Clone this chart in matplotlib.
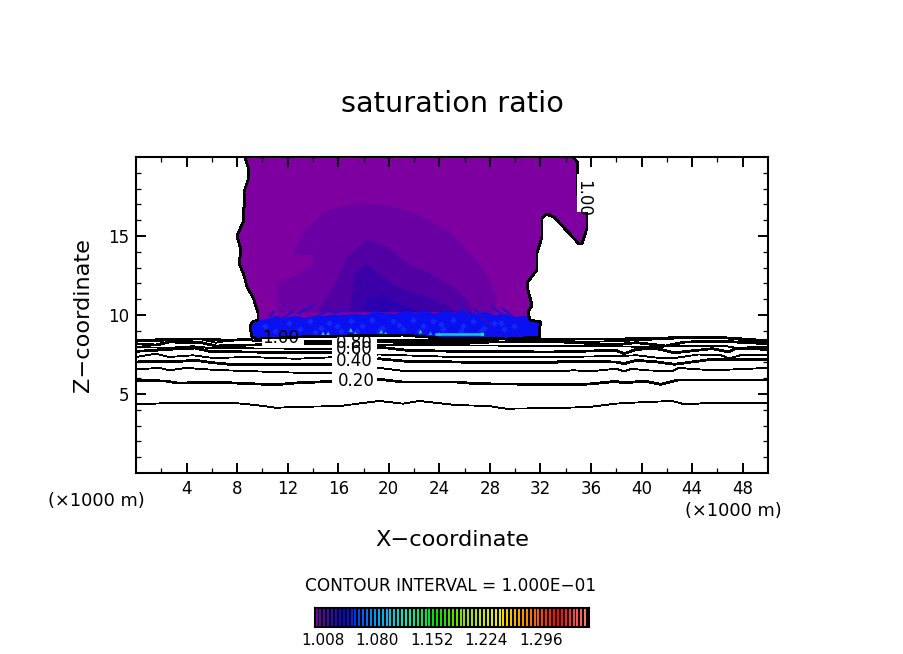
"""
Saturation ratio cross section, redrawn from values read off the picture.
"""
import numpy as np
import matplotlib
matplotlib.use('Agg')
import matplotlib.pyplot as plt
from matplotlib.colors import LinearSegmentedColormap

# Cloud outline (saturation ratio = 1), km.
cloud_x = [8.62, 8.94, 8.86, 8.54, 8.62, 8.47, 8.54, 7.99, 8.31, 8.15, 8.54, 8.78, 9.26, 9.65,
           9.65, 9.18, 9.02, 9.18, 9.57, 12.97, 16.14, 21.12, 24.05, 27.61, 29.35, 31.96,
           31.88, 32.04, 31.17, 31.01, 31.33, 31.01, 30.93, 31.72, 31.72, 32.12, 32.12, 32.52,
           33.15, 34.18, 35.05, 35.28, 35.68, 35.68, 35.28, 34.89, 34.89, 34.97, 34.57]
cloud_z = [20, 19.18, 18.54, 17.78, 17.09, 16.52, 16.01, 15.0, 14.11, 13.29, 12.53, 11.77, 11.14, 10.13,
           9.68, 9.56, 9.24, 8.61, 8.48, 8.61, 8.67, 8.73, 8.54, 8.54, 8.48, 8.61,
           9.05, 9.56, 9.68, 10.13, 10.63, 11.58, 12.03, 12.85, 13.92, 14.94, 16.14, 16.39,
           16.14, 15.25, 14.49, 14.49, 15.51, 16.46, 17.03, 17.72, 18.86, 19.62, 20]

# Filled levels inside the cloud.
lev2_x = [11.16, 11.16, 12.97, 14.0, 13.92, 12.42, 13.21, 15.11, 17.72, 19.86, 22.47, 24.84, 26.98, 28.0, 28.56, 28.4]
lev2_z = [10.13, 12.03, 12.66, 13.29, 13.8, 13.8, 15.19, 16.65, 17.09, 16.96, 16.33, 15.25, 13.48, 12.22, 11.14, 10.13]
lev3_x = [14.32, 15.9, 16.69, 18.28, 19.86, 21.44, 23.26, 25.08, 26.19, 26.58]
lev3_z = [10.19, 12.22, 13.67, 14.75, 14.3, 13.29, 12.66, 11.77, 10.95, 10.19]
lev4_x = [16.93, 17.33, 18.28, 19.07, 20.65, 23.02, 24.45, 25.4]
lev4_z = [10.19, 12.66, 13.29, 12.66, 11.77, 11.14, 10.63, 10.19]
lev5_x = [17.72, 18.28, 19.54, 20.65, 22.47]
lev5_z = [10.19, 10.95, 11.33, 10.76, 10.19]

# Blue band at cloud base.
band_x = [9.65, 10.44, 11.08, 11.79, 12.58, 13.37, 14.16, 14.95, 15.74, 16.53, 17.33, 18.12, 18.91, 19.70, 20.49,
          21.28, 22.07, 22.86, 23.65, 24.45, 25.24, 26.03, 26.82, 27.61, 28.40, 29.19, 29.98, 30.78, 31.25,
          32.04, 31.88, 31.96, 29.35, 27.61, 24.05, 21.12, 16.14, 12.97, 9.57, 9.18, 9.02, 9.18]
band_z = [9.68, 9.75, 9.94, 9.81, 9.94, 9.81, 9.94, 9.94, 10.0, 10.0, 10.06, 10.0, 10.19, 10.13, 10.06,
          10.25, 10.13, 10.25, 10.06, 10.25, 10.13, 10.32, 10.06, 10.19, 10.0, 10.06, 9.87, 9.94, 9.68,
          9.56, 9.05, 8.61, 8.48, 8.54, 8.54, 8.73, 8.67, 8.61, 8.48, 8.61, 9.24, 9.56]

# Dark streaks above the band: start x, start z, end x, end z.
streak_x0 = [10.6, 11.6, 12.9, 14.3, 15.6, 25.8, 26.8, 28.2, 29.0]
streak_z0 = [9.9, 9.8, 10.1, 9.9, 10.1, 10.5, 10.4, 10.5, 10.4]
streak_x1 = [10.9, 12.4, 14.0, 15.4, 16.7, 26.3, 28.1, 29.0, 29.8]
streak_z1 = [10.2, 10.2, 10.6, 10.4, 10.4, 10.0, 9.3, 10.0, 9.9]

# Lighter mottling inside the band.
mottle_x = [10.2, 11.0, 12.1, 13.0, 13.8, 14.6, 15.3, 16.2, 17.0, 17.9, 18.7, 19.5, 20.3, 21.1, 21.9, 22.7, 23.5,
            24.3, 25.1, 25.9, 26.7, 27.5, 28.3, 29.1, 29.9, 12.5, 14.2, 15.9, 17.5, 19.2, 20.8, 22.4, 24.1, 25.7,
            27.3, 28.9]
mottle_z = [9.3, 9.0, 9.5, 9.1, 9.6, 9.2, 9.5, 9.0, 9.6, 9.3, 9.7, 9.2, 9.6, 9.1, 9.7, 9.3, 9.6, 9.1, 9.7, 9.3, 9.6,
            9.2, 9.5, 9.1, 9.3, 8.9, 8.9, 9.3, 9.0, 9.0, 9.35, 9.0, 9.4, 9.0, 9.0, 9.5]

# Bright spots at cloud base.
spot_x = [14.8, 15.2, 17.0, 17.35, 19.4, 19.75, 22.5, 23.3, 24.0]
spot_z = [8.85, 8.85, 9.05, 8.85, 8.95, 8.85, 8.95, 8.85, 8.8]
spot_c = ['#30b0ff', '#30b0ff', '#10f090', '#20c0e0', '#20d0d0', '#20c0e0', '#10e060', '#2090ff', '#20a0ff']
bar_x = [23.7, 27.4]
bar_z = [8.78, 8.78]

# Contours below the cloud, saturation ratio 0.1 to 1.0.
c10_x = [0, 3.16, 6.33, 7.91, 9.49, 11.08, 12.66, 16.14, 19.22, 21.12, 22.39, 25.32, 27.93, 29.27, 33.23, 35.84,
         37.97, 39.24, 42.41, 43.43, 45.57, 50]
c10_z = [4.34, 4.45, 4.43, 4.42, 4.30, 4.13, 4.18, 4.24, 4.56, 4.39, 4.56, 4.30, 4.24, 4.07, 4.11, 4.18,
         4.39, 4.45, 4.56, 4.34, 4.45, 4.45]
c20_x = [0, 2.4, 3.2, 7.1, 9.7, 11.08, 12.66, 19.22, 21.12, 25.32, 26.9, 34.57, 35.84, 37.97, 38.6, 40.2, 41.5, 42.9, 50]
c20_z = [5.87, 5.82, 5.70, 5.72, 5.63, 5.59, 5.70, 5.93, 5.76, 5.76, 5.65, 5.59, 5.63, 5.80, 5.70, 5.82, 5.61, 5.89, 5.89]
c30_x = [0, 1.9, 2.6, 4.0, 6.3, 9.2, 12.66, 16.0, 19.22, 21.4, 33.5, 34.6, 36.0, 37.97, 38.6, 39.24, 40.3, 42.4, 42.9, 45.6, 50]
c30_z = [6.56, 6.65, 6.50, 6.65, 6.52, 6.44, 6.35, 6.35, 6.65, 6.44, 6.44, 6.50, 6.44, 6.60, 6.44, 6.60, 6.50, 6.44, 6.65, 6.50, 6.65]
c40_x = [0, 2.1, 2.6, 4.7, 6.1, 7.4, 12.66, 16.0, 19.22, 21.4, 25.32, 27.0, 33.2, 33.5, 37.97, 38.6, 39.6, 41.2, 42.6, 45.6, 50]
c40_z = [7.03, 7.07, 7.03, 7.13, 6.98, 6.88, 6.88, 6.88, 7.23, 7.07, 7.03, 6.98, 6.98, 7.07, 7.03, 6.92, 7.13, 7.03, 6.88, 7.20, 7.20]
c50_x = [0, 1.6, 2.6, 4.5, 6.1, 9.0, 12.66, 16.0, 19.22, 25.32, 33.2, 37.97, 39.6, 41.2, 42.6, 44.5, 46.3, 46.9, 47.8, 50]
c50_z = [7.34, 7.55, 7.34, 7.45, 7.28, 7.34, 7.23, 7.34, 7.50, 7.34, 7.34, 7.40, 7.45, 7.30, 7.28, 7.50, 7.45, 7.25, 7.45, 7.45]
c60_x = [0, 1.6, 2.6, 4.7, 5.8, 12.66, 16.0, 19.22, 21.4, 25.32, 32.7, 35.0, 37.97, 38.6, 39.6, 41.2, 42.6, 45.6, 46.9, 47.4, 50]
c60_z = [7.70, 7.77, 7.83, 7.91, 7.70, 7.61, 7.61, 7.97, 7.77, 7.70, 7.66, 7.70, 7.77, 7.55, 7.83, 7.87, 7.61, 7.87, 7.66, 7.87, 7.83]
c70_x = [0, 2.6, 4.5, 6.0, 12.66, 16.0, 19.22, 25.32, 37.97, 41.2, 42.6, 46.5, 47.5, 50]
c70_z = [7.97, 7.92, 8.02, 7.90, 7.87, 7.87, 8.10, 8.08, 8.02, 7.97, 8.05, 8.05, 7.92, 8.00]
c80_x = [0, 1.6, 2.6, 5.2, 6.3, 12.66, 16.0, 19.22, 25.32, 32.5, 37.97, 39.6, 41.9, 43.4, 46.3, 50]
c80_z = [8.18, 8.10, 8.29, 8.25, 8.04, 8.18, 8.18, 8.29, 8.25, 8.34, 8.12, 8.25, 8.04, 8.29, 8.34, 8.18]
c90_x = [0, 3.2, 5.0, 6.3, 7.5, 12.66, 16.0, 19.22, 25.32, 33.0, 35.0, 37.97, 39.6, 43.4, 46.2, 50]
c90_z = [8.34, 8.40, 8.50, 8.25, 8.40, 8.34, 8.34, 8.42, 8.40, 8.50, 8.30, 8.34, 8.40, 8.54, 8.61, 8.40]
c100l_x = [0, 3.0, 5.0, 7.5, 9.18]
c100l_z = [8.40, 8.45, 8.48, 8.40, 8.48]
c100r_x = [31.9, 37.97, 39.6, 43.4, 46.2, 50]
c100r_z = [8.48, 8.48, 8.50, 8.58, 8.59, 8.29]

# Contour labels.
label_text = ['1.00', '0.80', '0.60', '0.40', '0.20']
label_x = [11.47, 17.25, 17.25, 17.25, 17.4]
label_z = [8.54, 8.23, 7.85, 7.09, 5.82]

x_ticks = [4, 8, 12, 16, 20, 24, 28, 32, 36, 40, 44, 48]
z_ticks = [5, 10, 15]

# Colour bar.
bar_levels = [1.008, 1.080, 1.152, 1.224, 1.296]
bar_edges_lo = 0.9974
bar_edges_hi = 1.3598
bar_colors = ['#7f00a0', '#0000f0', '#00a0ff', '#00f0c0', '#00e000', '#a0e000', '#f0f000', '#ff8000', '#ff0000', '#ff8080']


def main():
    plt.rcParams['font.family'] = ['DejaVu Sans']
    plt.rcParams['lines.antialiased'] = False

    fig = plt.figure(figsize=(9.04, 6.54), dpi=100)
    ax = fig.add_axes([136 / 904, 1 - 473 / 654, 632 / 904, 316 / 654])
    ax.set_xlim(0, 50)
    ax.set_ylim(0, 20)

    # Filled cloud, outermost first.
    ax.fill(cloud_x, cloud_z, color='#7f00a0', lw=0, zorder=1)
    ax.fill(lev2_x, lev2_z, color='#6a00a4', lw=0, zorder=1.1)
    ax.fill(lev3_x, lev3_z, color='#5200a4', lw=0, zorder=1.2)
    ax.fill(lev4_x, lev4_z, color='#3c00a8', lw=0, zorder=1.3)
    ax.fill(lev5_x, lev5_z, color='#2a00b0', lw=0, zorder=1.4)
    ax.fill(band_x, band_z, color='#0a10f0', lw=0, zorder=2)

    # Band texture.
    for x0, z0, x1, z1 in zip(streak_x0, streak_z0, streak_x1, streak_z1):
        ax.plot([x0, x1], [z0, z1], color='#2810c8', lw=1.6, zorder=2.1, antialiased=True)
    ax.scatter(mottle_x, mottle_z, s=12, color='#1028f8', marker='D', lw=0, zorder=2.2)
    ax.scatter(spot_x, spot_z, s=7, c=spot_c, marker='^', lw=0, zorder=2.3)
    ax.plot(bar_x, bar_z, color='#18c8d8', lw=1.8, zorder=2.4, antialiased=True)
    ax.plot(bar_x[1], bar_z[1], 's', color='#10e890', ms=2, zorder=2.5)

    # Cloud outline.
    ax.plot(cloud_x + cloud_x[:1], cloud_z + cloud_z[:1], color='k', lw=1.3, zorder=3)

    # Contours, even tenths are the heavy ones.
    thin = [(c10_x, c10_z), (c30_x, c30_z), (c50_x, c50_z), (c70_x, c70_z), (c90_x, c90_z)]
    thick = [(c20_x, c20_z), (c40_x, c40_z), (c60_x, c60_z), (c80_x, c80_z), (c100l_x, c100l_z), (c100r_x, c100r_z)]
    for xx, zz in thin:
        ax.plot(xx, zz, color='k', lw=0.6, zorder=3)
    for xx, zz in thick:
        ax.plot(xx, zz, color='k', lw=1.25, zorder=3)

    # Knock out the lines behind the labels.
    ax.fill_between([15.5, 19.1], 5.38, 8.5, color='w', lw=0, zorder=3.5)
    ax.fill_between([10.0, 13.3], 8.05, 8.45, color='w', lw=0, zorder=3.5)
    ax.fill_between([34.85, 36.3], 16.5, 18.9, color='w', lw=0, zorder=3.5)
    for text, xx, zz in zip(label_text, label_x, label_z):
        ax.text(xx, zz, text, fontsize=12, ha='center', va='center', color='k', zorder=4)
    ax.text(35.4, 17.35, '1.00', fontsize=12, rotation=-90, ha='center', va='center', color='k', zorder=4)

    # Axes furniture.
    ax.set_xticks(x_ticks)
    ax.set_yticks(z_ticks)
    ax.set_xticks(np.arange(2, 50, 4), minor=True)
    ax.set_yticks([z for z in range(1, 20) if z % 5], minor=True)
    ax.tick_params(which='major', direction='in', top=True, right=True, length=7.2, width=1.4, labelsize=12, pad=5)
    ax.tick_params(which='minor', direction='in', top=True, right=True, length=3.6, width=0.9)
    for spine in ax.spines.values():
        spine.set_linewidth(1.5)

    fig.text(452 / 904, 1 - 104 / 654, 'saturation ratio', fontsize=20.7, ha='center', va='center')
    fig.text(452 / 904, 1 - 540 / 654, 'X\u2212coordinate', fontsize=16.2, ha='center', va='center')
    fig.text(83 / 904, 1 - 315 / 654, 'Z\u2212coordinate', fontsize=16.2, rotation=90, ha='center', va='center')
    fig.text(96 / 904, 1 - 501 / 654, '(\u00d71000 m)', fontsize=12.8, ha='center', va='center')
    fig.text(733 / 904, 1 - 511 / 654, '(\u00d71000 m)', fontsize=12.8, ha='center', va='center')
    fig.text(451 / 904, 1 - 586 / 654, 'CONTOUR INTERVAL = 1.000E\u221201', fontsize=12.2, ha='center', va='center')

    # Colour bar with a black gap between the stripes.
    cax = fig.add_axes([315 / 904, 1 - 627 / 654, 274 / 904, 19 / 654])
    cmap = LinearSegmentedColormap.from_list('rainbow_bar', bar_colors)
    cax.set_facecolor('k')
    stripes = np.arange(bar_edges_lo + 0.002, bar_edges_hi, 0.00515)
    cax.vlines(stripes, 0, 1, colors=cmap((stripes - bar_edges_lo) / (bar_edges_hi - bar_edges_lo)), lw=1.2)
    cax.set_xlim(bar_edges_lo, bar_edges_hi)
    cax.set_ylim(0, 1)
    cax.set_yticks([])
    cax.set_xticks(bar_levels)
    cax.set_xticklabels(['%.3f' % v for v in bar_levels], fontsize=11)
    cax.tick_params(length=0, pad=4)
    for spine in cax.spines.values():
        spine.set_linewidth(1.5)

    fig.savefig('out.png', dpi=100)


if __name__ == '__main__':
    main()
